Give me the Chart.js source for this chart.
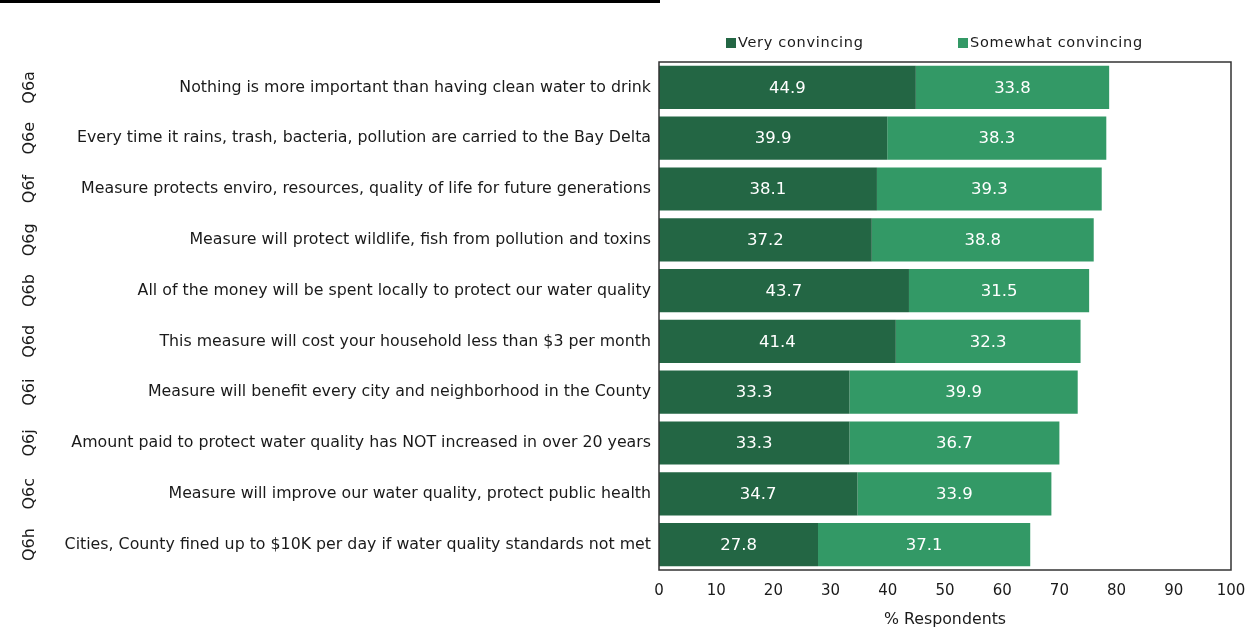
<!DOCTYPE html>
<html lang="en">
<head>
<meta charset="UTF-8">
<title>Convincing Statements</title>
<style>
  body { margin: 0; background: #fff; }
  .wrap { position: relative; width: 1254px; height: 630px; }
  .topline { position: absolute; left: 0; top: 0; width: 660px; height: 3px; background: #000; }
</style>
</head>
<body>
<div class="wrap">
  <div class="topline"></div>
  <canvas id="chart" width="1254" height="630"></canvas>
</div>

<script src="https://cdn.jsdelivr.net/npm/chart.js"></script>
<script>
const codes = ['Q6a', 'Q6e', 'Q6f', 'Q6g', 'Q6b', 'Q6d', 'Q6i', 'Q6j', 'Q6c', 'Q6h'];
const statements = [
  'Nothing is more important than having clean water to drink',
  'Every time it rains, trash, bacteria, pollution are carried to the Bay Delta',
  'Measure protects enviro, resources, quality of life for future generations',
  'Measure will protect wildlife, fish from pollution and toxins',
  'All of the money will be spent locally to protect our water quality',
  'This measure will cost your household less than $3 per month',
  'Measure will benefit every city and neighborhood in the County',
  'Amount paid to protect water quality has NOT increased in over 20 years',
  'Measure will improve our water quality, protect public health',
  'Cities, County fined up to $10K per day if water quality standards not met'
];
const veryConvincing = [44.9, 39.9, 38.1, 37.2, 43.7, 41.4, 33.3, 33.3, 34.7, 27.8];
const somewhatConvincing = [33.8, 38.3, 39.3, 38.8, 31.5, 32.3, 39.9, 36.7, 33.9, 37.1];
const xTicks = [0, 10, 20, 30, 40, 50, 60, 70, 80, 90, 100];

const FONT = 'DejaVu Sans';
const TEXT = '#1a1a1a';

// white value labels, frame, question codes and legend
const extras = {
  id: 'extras',
  afterDatasetsDraw(chart) {
    const ctx = chart.ctx;
    const area = chart.chartArea;
    ctx.save();

    ctx.fillStyle = '#fff';
    ctx.font = '16.5px "' + FONT + '"';
    ctx.textAlign = 'center';
    ctx.textBaseline = 'middle';
    chart.data.datasets.forEach((ds, i) => {
      chart.getDatasetMeta(i).data.forEach((bar, j) => {
        ctx.fillText(ds.data[j].toFixed(1), (bar.x + bar.base) / 2, bar.y + 1);
      });
    });

    ctx.strokeStyle = '#333';
    ctx.lineWidth = 1.5;
    ctx.strokeRect(area.left, area.top, area.right - area.left, area.bottom - area.top);

    const y = chart.scales.y;
    ctx.fillStyle = TEXT;
    ctx.font = '16px "' + FONT + '"';
    codes.forEach((c, i) => {
      ctx.save();
      ctx.translate(30, y.getPixelForValue(i));
      ctx.rotate(-Math.PI / 2);
      ctx.fillText(c, 0, 0);
      ctx.restore();
    });

    ctx.font = '14.5px "' + FONT + '"';
    ctx.letterSpacing = '0.7px';
    ctx.textAlign = 'left';
    const legendX = [area.left + 67, area.left + 299];
    chart.data.datasets.forEach((ds, i) => {
      ctx.fillStyle = ds.backgroundColor;
      ctx.fillRect(legendX[i], 38, 10, 10);
      ctx.fillStyle = TEXT;
      ctx.fillText(ds.label, legendX[i] + 12, 43);
    });
    ctx.restore();
  }
};

new Chart(document.getElementById('chart'), {
  type: 'bar',
  data: {
    labels: statements,
    datasets: [
      { label: 'Very convincing', data: veryConvincing, backgroundColor: '#236644' },
      { label: 'Somewhat convincing', data: somewhatConvincing, backgroundColor: '#339966' }
    ]
  },
  options: {
    indexAxis: 'y',
    responsive: false,
    animation: false,
    barPercentage: 0.85,
    categoryPercentage: 1,
    layout: { padding: { top: 62, right: 23, left: 0, bottom: 0 } },
    plugins: {
      legend: { display: false },
      tooltip: { enabled: false }
    },
    scales: {
      x: {
        stacked: true,
        min: 0,
        max: 100,
        afterBuildTicks: axis => { axis.ticks = xTicks.map(v => ({ value: v })); },
        afterFit: axis => {
          axis.height = 60;
          axis.paddingRight = 0;
        },
        grid: { display: false, drawTicks: false },
        border: { display: false },
        ticks: { color: TEXT, font: { family: FONT, size: 15 }, padding: 12 },
        title: {
          display: true,
          text: '% Respondents',
          color: TEXT,
          font: { family: FONT, size: 15.8 },
          padding: { top: 10, bottom: 1 }
        }
      },
      y: {
        stacked: true,
        grid: { display: false, drawTicks: false },
        border: { display: false },
        ticks: { color: TEXT, font: { family: FONT, size: 15.8 }, padding: 8 },
        afterFit: axis => { axis.width = 659; }
      }
    }
  },
  plugins: [extras]
});
</script>
</body>
</html>
